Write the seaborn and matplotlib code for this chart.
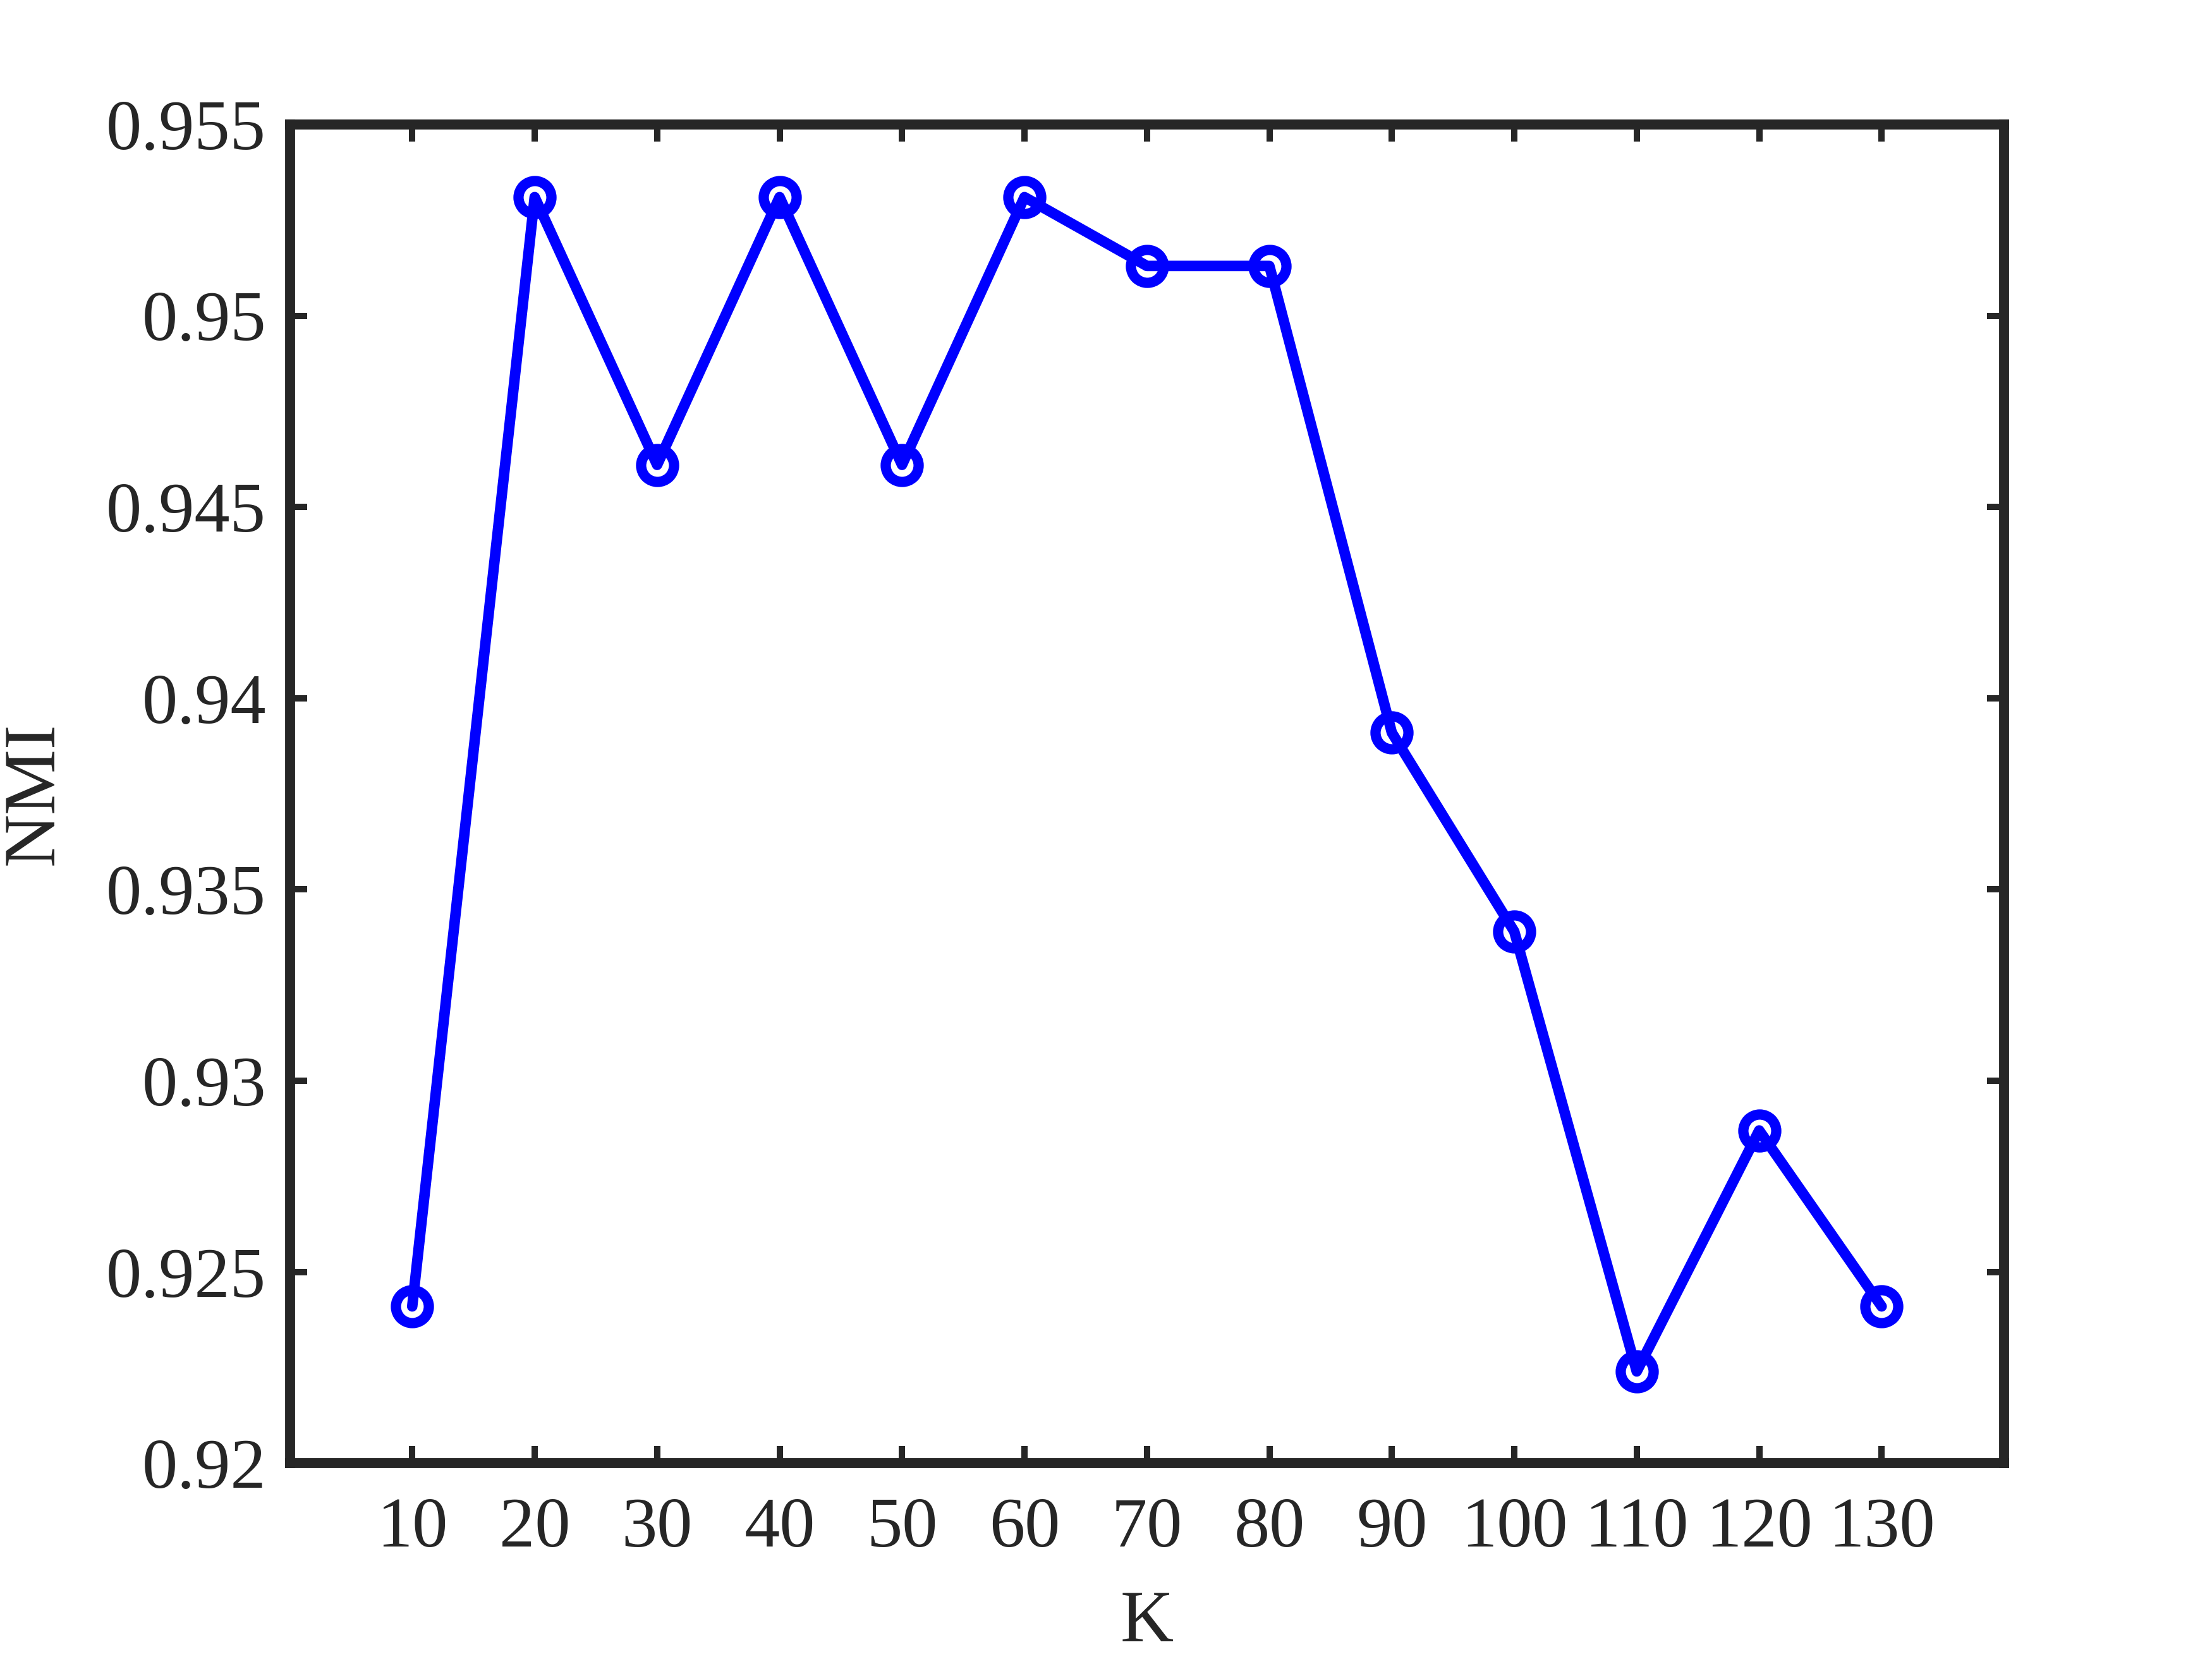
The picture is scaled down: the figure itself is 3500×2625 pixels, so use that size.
import pandas as pd
import matplotlib
matplotlib.use("Agg")
import matplotlib.pyplot as plt
import seaborn as sns

# Values
k_values = [10, 20, 30, 40, 50, 60, 70, 80, 90, 100, 110, 120, 130]
nmi_values = [0.9241, 0.9531, 0.9461, 0.9531, 0.9461, 0.9531, 0.9513,
              0.9513, 0.9391, 0.9339, 0.9224, 0.9287, 0.9241]
y_ticks = [0.92, 0.925, 0.93, 0.935, 0.94, 0.945, 0.95, 0.955]
y_tick_labels = ["0.92", "0.925", "0.93", "0.935", "0.94", "0.945", "0.95", "0.955"]

# Theme first, then fonts (set_theme resets font.family)
sns.set_theme(style="ticks")
plt.rcParams['font.family'] = ['Liberation Serif', 'DejaVu Serif']

AX_COLOR = "#262626"

def main():
    df = pd.DataFrame({"K": k_values, "NMI": nmi_values})

    fig = plt.figure(figsize=(11.6667, 8.75), dpi=300)
    ax = fig.add_axes([0.131, 0.118, 0.775, 0.807])

    sns.lineplot(data=df, x="K", y="NMI", ax=ax, color="#0000ff",
                 linewidth=4, marker="o", markersize=12.5,
                 markerfacecolor="none", markeredgecolor="#0000ff",
                 markeredgewidth=3.9)

    ax.set_xlim(0, 140)
    ax.set_ylim(0.92, 0.955)
    ax.set_xticks(k_values)
    ax.set_xticklabels([str(k) for k in k_values])
    ax.set_yticks(y_ticks)
    ax.set_yticklabels(y_tick_labels)

    for side in ["left", "right", "top", "bottom"]:
        ax.spines[side].set_visible(True)
        ax.spines[side].set_linewidth(3.8)
        ax.spines[side].set_color(AX_COLOR)

    ax.tick_params(axis="both", direction="in", length=6.5, width=2.4,
                   color=AX_COLOR, labelcolor=AX_COLOR, labelsize=27,
                   top=True, right=True)
    ax.tick_params(axis="x", pad=13)
    ax.tick_params(axis="y", pad=9)

    ax.set_xlabel("K", fontsize=28, color=AX_COLOR)
    ax.set_ylabel("NMI", fontsize=28, color=AX_COLOR)
    ax.xaxis.set_label_coords(0.5, -0.095)
    ax.yaxis.set_label_coords(-0.129, 0.5)
    ax.grid(False)

    fig.savefig("out.png", dpi=300, facecolor="white")

if __name__ == "__main__":
    main()
